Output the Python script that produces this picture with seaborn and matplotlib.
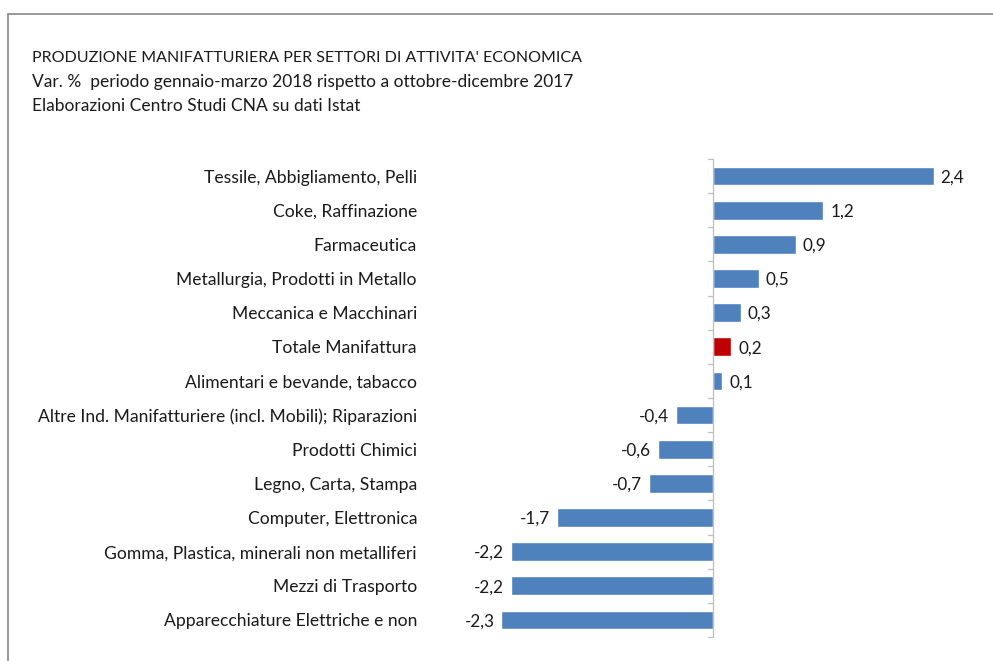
import matplotlib
matplotlib.use('Agg')
import matplotlib.pyplot as plt
import seaborn as sns
import pandas as pd
from matplotlib.lines import Line2D

sectors = [
    'Tessile, Abbigliamento, Pelli',
    'Coke, Raffinazione',
    'Farmaceutica',
    'Metallurgia, Prodotti in Metallo',
    'Meccanica e Macchinari',
    'Totale Manifattura',
    'Alimentari e bevande, tabacco',
    'Altre Ind. Manifatturiere (incl. Mobili); Riparazioni',
    'Prodotti Chimici',
    'Legno, Carta, Stampa',
    'Computer, Elettronica',
    'Gomma, Plastica, minerali non metalliferi',
    'Mezzi di Trasporto',
    'Apparecchiature Elettriche e non',
]
values = [2.4, 1.2, 0.9, 0.5, 0.3, 0.2, 0.1, -0.4, -0.6, -0.7, -1.7, -2.2, -2.2, -2.3]

title_lines = [
    "PRODUZIONE MANIFATTURIERA PER SETTORI DI ATTIVITA' ECONOMICA",
    "Var. %  periodo gennaio-marzo 2018 rispetto a ottobre-dicembre 2017",
    "Elaborazioni Centro Studi CNA su dati Istat",
]
title_sizes = [11.5, 12.5, 12.5]

BLUE = '#4F81BD'
RED = '#C00000'
TXT = '#1A1A1A'

sns.set_style('white')
plt.rcParams['font.family'] = ['Lato', 'DejaVu Sans']

df = pd.DataFrame({'settore': sectors, 'var': values})
palette = {s: (RED if s == 'Totale Manifattura' else BLUE) for s in sectors}

W, H = 993, 661
fig = plt.figure(figsize=(W / 100, H / 100), dpi=100)
ax_left, ax_right, ax_top, ax_bot = 440, 960, 159, 637
ax = fig.add_axes([ax_left / W, 1 - ax_bot / H, (ax_right - ax_left) / W, (ax_bot - ax_top) / H])

sns.barplot(data=df, x='var', y='settore', hue='settore', palette=palette,
            order=sectors, orient='h', width=0.55, saturation=1, legend=False, ax=ax)

px = 92.0
zero_x = 713
ax.set_xlim(-(zero_x - ax_left) / px, (ax_right - zero_x) / px)
ax.set_ylim(len(sectors) - 0.5, -0.5)

for i, v in enumerate(values):
    lab = f'{v:.1f}'.replace('.', ',')
    if v >= 0:
        ax.annotate(lab, (v, i), xytext=(5, -1), textcoords='offset points',
                    ha='left', va='center', fontsize=12.3, color=TXT)
    else:
        ax.annotate(lab, (v, i), xytext=(-5, -1), textcoords='offset points',
                    ha='right', va='center', fontsize=12.3, color=TXT)

for s in ['top', 'right', 'bottom', 'left']:
    ax.spines[s].set_visible(False)
ax.axvline(0, color='#BFBFBF', lw=0.9)
ax.set_xticks([])
ax.set_yticks(range(len(sectors)))
ax.set_yticklabels(sectors, fontsize=12.6, color=TXT)
ax.tick_params(axis='y', length=0, pad=(ax_left - 417) * 0.72)
for b in [i - 0.5 for i in range(len(sectors) + 1)]:
    ax.plot([-5 / px, 0], [b, b], color='#BFBFBF', lw=0.9, clip_on=False)
ax.set_xlabel(None)
ax.set_ylabel(None)

for k, line in enumerate(title_lines):
    fig.text(32 / W, 1 - (58 + 24 * k) / H, line, fontsize=title_sizes[k], color=TXT,
             ha='left', va='center')

# outer chart frame (Excel style)
fig.add_artist(Line2D([8 / W, 8 / W], [0, 1 - 14 / H], transform=fig.transFigure, color='#888888', lw=1.2))
fig.add_artist(Line2D([8 / W, 1], [1 - 14 / H, 1 - 14 / H], transform=fig.transFigure, color='#888888', lw=1.2))

fig.savefig('out.png', dpi=100)
